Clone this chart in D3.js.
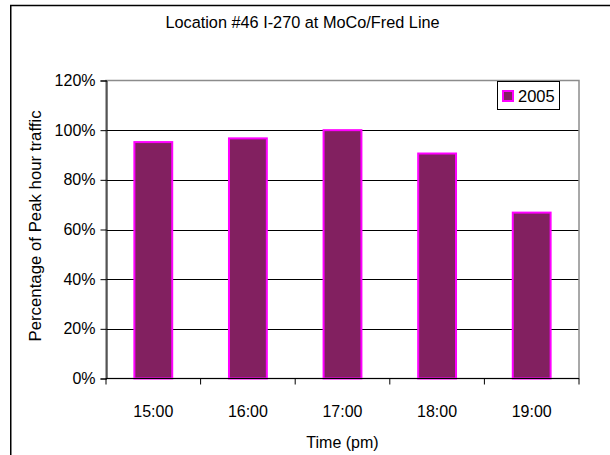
<!DOCTYPE html>
<html>
<head>
<meta charset="utf-8">
<script src="https://cdn.jsdelivr.net/npm/d3@7"></script>
<style>
  html, body { margin: 0; padding: 0; background: #fff; }
  svg { display: block; }
  text { font-family: "Liberation Sans", Arial, sans-serif; fill: #000; }
</style>
</head>
<body>
<div id="chart"></div>
<script>
// Share of peak-hour traffic by hour, Location #46 (I-270 at MoCo/Fred Line)
const hours = ["15:00", "16:00", "17:00", "18:00", "19:00"];
const share2005 = [0.952, 0.967, 1.0, 0.906, 0.668];
const yTicks = [0, 0.2, 0.4, 0.6, 0.8, 1.0, 1.2];
const seriesName = "2005";
const titleText = "Location #46 I-270 at MoCo/Fred Line";
const xTitle = "Time (pm)";
const yTitle = "Percentage of Peak hour traffic";

const W = 610, H = 455;
const plot = { left: 106, right: 579, top: 80.5, bottom: 378.5 };

const svg = d3.select("#chart").append("svg")
  .attr("width", W).attr("height", H);

// chart frame (continues past the right and bottom edges)
svg.append("path")
  .attr("d", `M10.75,${H + 5} V5.5 H${W + 5}`)
  .attr("fill", "none").attr("stroke", "#000").attr("stroke-width", 1.5);

const x = d3.scaleBand().domain(hours)
  .range([plot.left, plot.right]).paddingInner(0.6).paddingOuter(0.3);
const y = d3.scaleLinear().domain([0, 1.2]).range([plot.bottom, plot.top]);

// gridlines
svg.append("g").selectAll("line").data(yTicks.filter(d => d > 0 && d < 1.2)).join("line")
  .attr("x1", plot.left).attr("x2", plot.right)
  .attr("y1", d => Math.round(y(d)) + 0.5).attr("y2", d => Math.round(y(d)) + 0.5)
  .attr("stroke", "#000").attr("stroke-width", 1);

// plot area border
svg.append("rect")
  .attr("x", plot.left).attr("y", plot.top)
  .attr("width", plot.right - plot.left).attr("height", plot.bottom - plot.top)
  .attr("fill", "none").attr("stroke", "#8c8c8c").attr("stroke-width", 1.5);

// bars
svg.append("g").selectAll("rect").data(hours).join("rect")
  .attr("x", d => x(d))
  .attr("width", x.bandwidth())
  .attr("y", (d, i) => y(share2005[i]))
  .attr("height", (d, i) => y(0) - y(share2005[i]))
  .attr("fill", "#822060")
  .attr("stroke", "#ff00ff").attr("stroke-width", 2);

// y axis
const yAxis = d3.axisLeft(y).tickValues(yTicks).tickSize(6).tickPadding(5)
  .tickFormat(d3.format(".0%"));
const gy = svg.append("g").attr("transform", `translate(${plot.left + 0.5},0)`).call(yAxis);
gy.select(".domain").attr("stroke", "#000");
gy.selectAll(".tick line").attr("stroke", "#000");
gy.selectAll(".tick text").attr("font-size", 16).attr("font-family", "Liberation Sans, Arial, sans-serif");

// x axis: ticks on category boundaries
const gx = svg.append("g").attr("transform", `translate(0,${plot.bottom})`);
gx.append("line").attr("x1", plot.left).attr("x2", plot.right)
  .attr("y1", 0).attr("y2", 0).attr("stroke", "#000");
const step = x.step();
const bounds = d3.range(hours.length + 1).map(i => plot.left + i * step);
gx.selectAll("line.tk").data(bounds).join("line").attr("class", "tk")
  .attr("x1", d => d).attr("x2", d => d).attr("y1", 0).attr("y2", 6)
  .attr("stroke", "#000");
gx.selectAll("text").data(hours).join("text")
  .attr("x", d => x(d) + x.bandwidth() / 2)
  .attr("y", 38)
  .attr("text-anchor", "middle").attr("font-size", 16)
  .text(d => d);

// titles
svg.append("text").attr("x", 302.5).attr("y", 28)
  .attr("text-anchor", "middle").attr("font-size", 16.3).text(titleText);
svg.append("text").attr("x", (plot.left + plot.right) / 2).attr("y", 448)
  .attr("text-anchor", "middle").attr("font-size", 16).text(xTitle);
svg.append("text")
  .attr("transform", `translate(41,226) rotate(-90)`)
  .attr("text-anchor", "middle").attr("font-size", 16.8).text(yTitle);

// legend
const lg = svg.append("g").attr("transform", "translate(497,81)");
lg.append("rect").attr("x", 0.5).attr("y", 0.5).attr("width", 62).attr("height", 28)
  .attr("fill", "#fff").attr("stroke", "#000").attr("stroke-width", 1);
lg.append("rect").attr("x", 6).attr("y", 10).attr("width", 10).attr("height", 10)
  .attr("fill", "#822060").attr("stroke", "#ff00ff").attr("stroke-width", 2);
lg.append("text").attr("x", 21).attr("y", 21).attr("font-size", 16.5).text(seriesName);
</script>
</body>
</html>
